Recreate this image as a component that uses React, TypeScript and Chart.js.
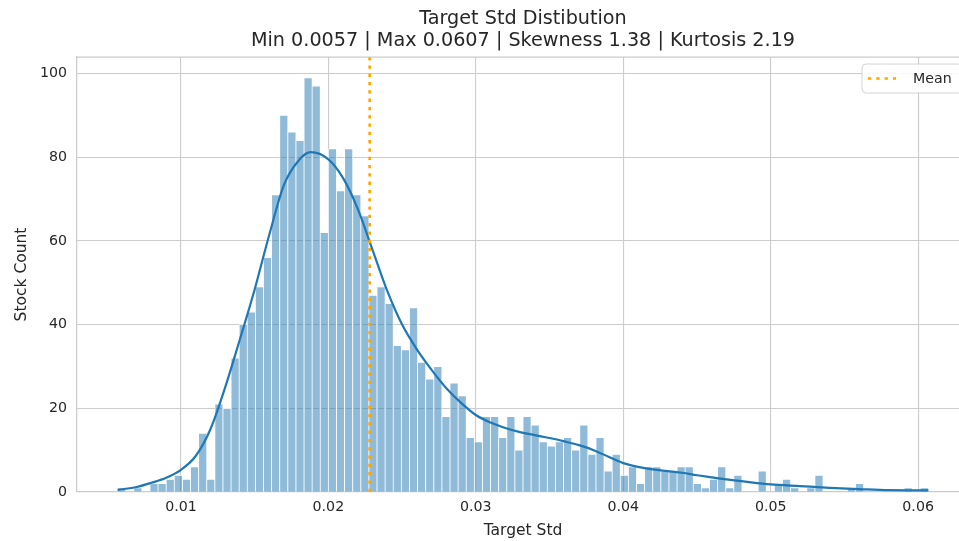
import { useEffect, useRef } from "react";
import { Chart, registerables } from "chart.js";

Chart.register(...registerables);

// Histogram of per-stock target standard deviation (100 equal-width bins)
const binMin = 0.0057;
const binMax = 0.0607;
const binCounts = [
  1, 0, 1, 0, 2, 2, 3, 4, 3, 6,
  14, 3, 21, 20, 32, 40, 43, 49, 56, 71,
  90, 86, 84, 99, 97, 62, 82, 72, 82, 71,
  66, 47, 49, 45, 35, 34, 44, 31, 27, 30,
  18, 26, 23, 13, 12, 18, 18, 13, 18, 10,
  18, 16, 12, 11, 12, 13, 10, 16, 9, 13,
  5, 9, 4, 6, 2, 6, 6, 5, 5, 6,
  6, 2, 1, 3, 6, 1, 4, 0, 0, 5,
  0, 2, 3, 1, 0, 1, 4, 0, 0, 0,
  1, 2, 0, 0, 0, 0, 0, 1, 0, 1,
];

// Kernel density estimate, scaled to counts
const kdeX = [
  0.0057, 0.007, 0.008, 0.009, 0.010, 0.011, 0.012, 0.013, 0.014, 0.015,
  0.016, 0.017, 0.018, 0.0188, 0.020, 0.021, 0.022, 0.023, 0.024, 0.025,
  0.026, 0.027, 0.028, 0.029, 0.030, 0.031, 0.032, 0.033, 0.034, 0.035,
  0.036, 0.037, 0.038, 0.039, 0.040, 0.041, 0.042, 0.043, 0.044, 0.045,
  0.046, 0.047, 0.048, 0.050, 0.052, 0.054, 0.056, 0.058, 0.0607,
];
const kdeY = [
  0.5, 1.2, 2.2, 3.4, 5.3, 8.6, 15, 25, 36.5, 48.4,
  61.6, 73.5, 79.3, 81.2, 79.5, 75, 67.6, 57.8, 48, 40,
  34.1, 29.2, 24.8, 21.3, 18.4, 16.6, 15.3, 14.3, 13.6, 12.9,
  12.1, 11.2, 10, 8.4, 6.9, 6.0, 5.4, 5.0, 4.6, 4.0,
  3.5, 3.0, 2.6, 1.8, 1.4, 1.0, 0.7, 0.45, 0.4,
];

const meanValue = 0.0228;
const meanLabel = "Mean";

const xTicks = [0.01, 0.02, 0.03, 0.04, 0.05, 0.06];
const xTickLabels = ["0.01", "0.02", "0.03", "0.04", "0.05", "0.06"];
const yTicks = [0, 20, 40, 60, 80, 100];
const yTickLabels = ["0", "20", "40", "60", "80", "100"];

const titleLines = [
  "Target Std Distibution",
  "Min 0.0057 | Max 0.0607 | Skewness 1.38 | Kurtosis 2.19",
];
const xLabel = "Target Std";
const yLabel = "Stock Count";

const FONT = "'DejaVu Sans', sans-serif";
const TEXT = "#262626";
const GRID = "#cccccc";
const BLUE = "#1f77b4";
const ORANGE = "#ffa500";
const MEAN_DASH = [3.3, 5];

// Top spine and the in-axes legend box
const framePlugin = {
  id: "frameAndLegend",
  afterDraw(chart: any) {
    const { ctx, chartArea } = chart;
    const { left, right, top } = chartArea;
    ctx.save();
    ctx.strokeStyle = GRID;
    ctx.lineWidth = 1.25;
    ctx.beginPath();
    ctx.moveTo(left, top);
    ctx.lineTo(right, top);
    ctx.stroke();

    // legend
    const fs = 14.2;
    const bx = right - 107;
    const by = top + 7;
    const bw = 100;
    const bh = 29;
    const r = 4;
    ctx.beginPath();
    ctx.moveTo(bx + r, by);
    ctx.lineTo(bx + bw - r, by);
    ctx.arcTo(bx + bw, by, bx + bw, by + r, r);
    ctx.lineTo(bx + bw, by + bh - r);
    ctx.arcTo(bx + bw, by + bh, bx + bw - r, by + bh, r);
    ctx.lineTo(bx + r, by + bh);
    ctx.arcTo(bx, by + bh, bx, by + bh - r, r);
    ctx.lineTo(bx, by + r);
    ctx.arcTo(bx, by, bx + r, by, r);
    ctx.closePath();
    ctx.fillStyle = "rgba(255,255,255,0.85)";
    ctx.fill();
    ctx.strokeStyle = "rgba(204,204,204,0.85)";
    ctx.lineWidth = 1;
    ctx.stroke();

    const cy = by + bh / 2;
    ctx.strokeStyle = ORANGE;
    ctx.lineWidth = 2.7;
    ctx.lineCap = "butt";
    ctx.setLineDash(MEAN_DASH);
    ctx.beginPath();
    ctx.moveTo(bx + 6, cy);
    ctx.lineTo(bx + 34, cy);
    ctx.stroke();
    ctx.setLineDash([]);

    ctx.fillStyle = TEXT;
    ctx.font = `${fs}px ${FONT}`;
    ctx.textAlign = "left";
    ctx.textBaseline = "middle";
    ctx.fillText(meanLabel, bx + 51, cy + 0.5);
    ctx.restore();
  },
};

export default function App() {
  const canvasRef = useRef<HTMLCanvasElement | null>(null);

  useEffect(() => {
    const canvas = canvasRef.current;
    if (!canvas) return;

    const binWidth = (binMax - binMin) / binCounts.length;
    const bars = binCounts.map((c, i) => ({ x: binMin + (i + 0.5) * binWidth, y: c }));
    const kde = kdeX.map((x, i) => ({ x, y: kdeY[i] }));
    const span = binMax - binMin;
    const xMin = binMin - 0.05 * span;
    const xMax = binMax + 0.05 * span;
    const yMax = Math.max(...binCounts) * 1.05;

    const chart = new Chart(canvas, {
      type: "bar",
      data: {
        datasets: [
          {
            type: "line",
            label: meanLabel,
            data: [
              { x: meanValue, y: 0 },
              { x: meanValue, y: yMax },
            ],
            borderColor: ORANGE,
            borderWidth: 2.7,
            borderDash: MEAN_DASH,
            borderCapStyle: "butt",
            pointRadius: 0,
            fill: false,
            order: 0,
          } as any,
          {
            type: "line",
            label: "KDE",
            data: kde,
            borderColor: BLUE,
            borderWidth: 2.2,
            pointRadius: 0,
            cubicInterpolationMode: "monotone",
            fill: false,
            order: 1,
          } as any,
          {
            type: "bar",
            label: "Count",
            data: bars,
            backgroundColor: "rgba(31,119,180,0.5)",
            borderColor: "#ffffff",
            borderWidth: 0.75,
            barPercentage: 1,
            categoryPercentage: 1,
            order: 2,
          } as any,
        ],
      },
      options: {
        responsive: false,
        animation: false,
        events: [],
        layout: { padding: { left: 0, top: 0, bottom: 0, right: 31 } },
        plugins: {
          legend: { display: false },
          tooltip: { enabled: false },
          title: {
            display: true,
            fullSize: false,
            text: titleLines,
            color: TEXT,
            font: { family: FONT, size: 19.2, weight: "normal", lineHeight: 1.146 },
            padding: { top: 8, bottom: 5 },
          },
        },
        scales: {
          x: {
            type: "linear",
            min: xMin,
            max: xMax,
            offset: false,
            afterBuildTicks: (s: any) => {
              s.ticks = xTicks.map((v) => ({ value: v }));
            },
            afterFit: (s: any) => {
              s.height = 49;
            },
            grid: { color: GRID, lineWidth: 1.1, drawTicks: false, offset: false },
            border: { display: true, color: GRID, width: 1.25 },
            ticks: {
              padding: 7,
              autoSkip: false,
              maxRotation: 0,
              color: TEXT,
              font: { family: FONT, size: 14.2 },
              callback: (_v: any, i: number) => xTickLabels[i],
            },
            title: {
              display: true,
              text: xLabel,
              color: TEXT,
              font: { family: FONT, size: 15.5 },
              padding: { top: 0, bottom: 1 },
            },
          },
          y: {
            type: "linear",
            min: 0,
            max: yMax,
            afterBuildTicks: (s: any) => {
              s.ticks = yTicks.map((v) => ({ value: v }));
            },
            afterFit: (s: any) => {
              s.width = 77;
            },
            grid: { color: GRID, lineWidth: 1.1, drawTicks: false },
            border: { display: true, color: GRID, width: 1.25 },
            ticks: {
              padding: 10,
              autoSkip: false,
              color: TEXT,
              font: { family: FONT, size: 14.2 },
              callback: (_v: any, i: number) => yTickLabels[i],
            },
            title: {
              display: true,
              text: yLabel,
              color: TEXT,
              font: { family: FONT, size: 15.5 },
              padding: { top: 12.7, bottom: 0 },
            },
          },
        },
      },
      plugins: [framePlugin],
    } as any);

    return () => chart.destroy();
  }, []);

  return (
    <div
      style={{
        position: "fixed",
        left: 0,
        top: 0,
        width: 959,
        height: 541,
        overflow: "hidden",
        background: "#ffffff",
      }}
    >
      <canvas
        ref={canvasRef}
        width={1000}
        height={541}
        style={{ display: "block", width: 1000, height: 541 }}
      />
    </div>
  );
}
